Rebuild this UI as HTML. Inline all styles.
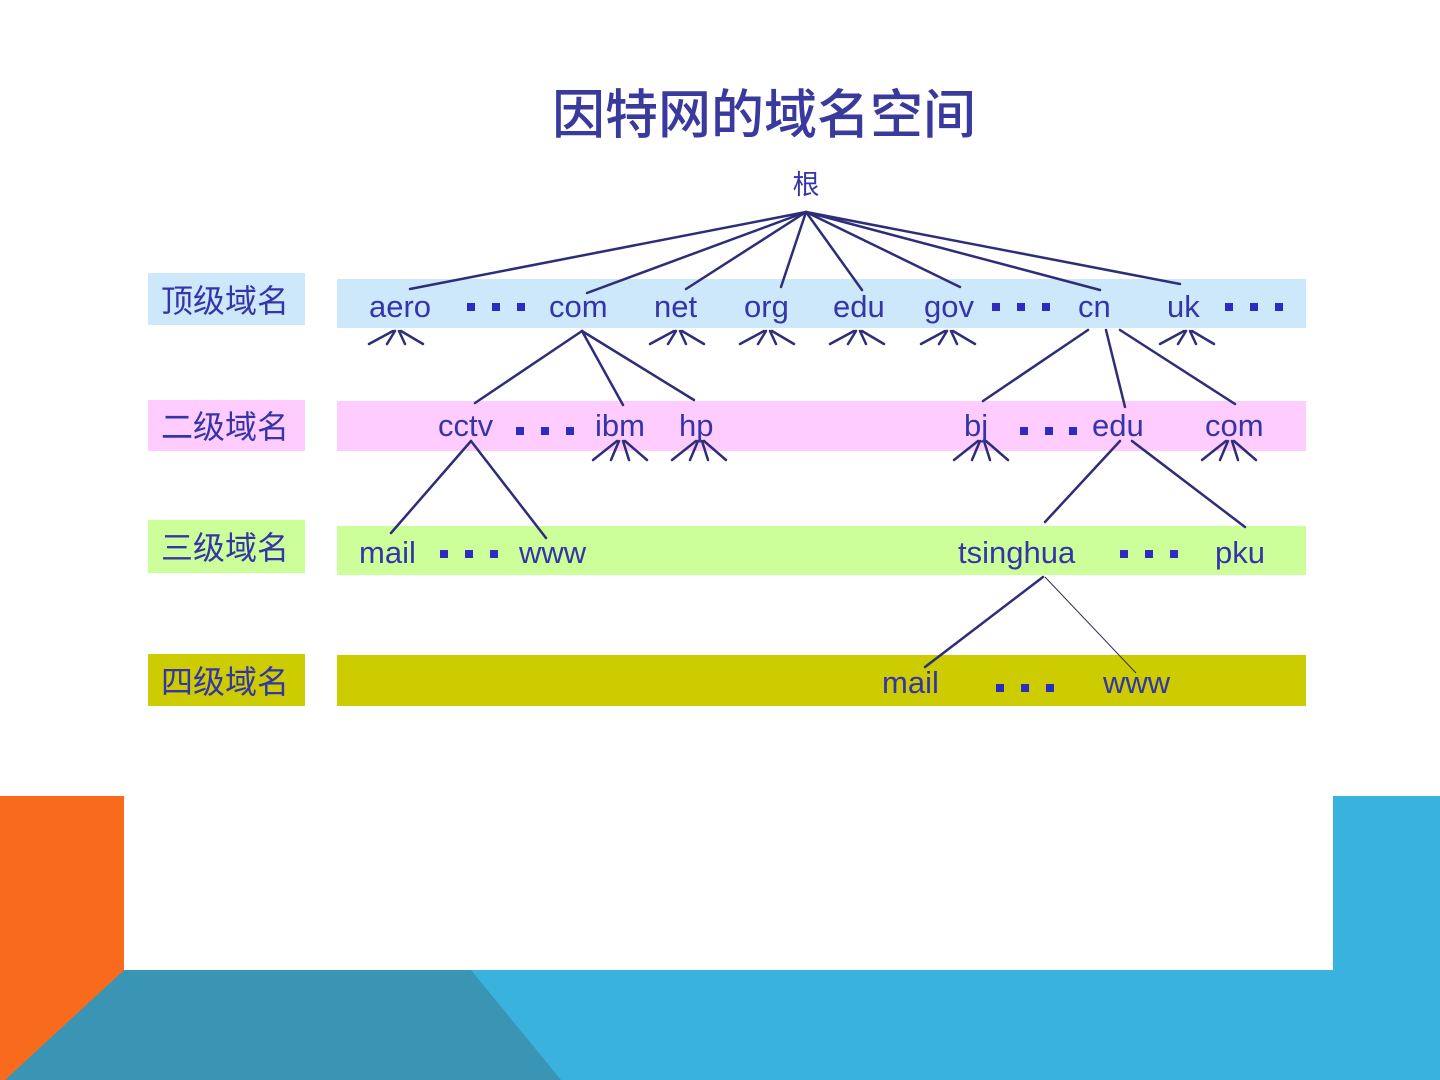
<!DOCTYPE html>
<html><head><meta charset="utf-8"><style>
html,body{margin:0;padding:0;background:#fff;}
svg{display:block;}
text{font-family:"Liberation Sans","Noto Sans CJK SC",sans-serif;fill:#3535a8;}
.c{font-family:"Noto Sans CJK SC","WenQuanYi Zen Hei",sans-serif;}
</style></head><body>
<svg width="1440" height="1080" viewBox="0 0 1440 1080" xmlns="http://www.w3.org/2000/svg">
<rect width="1440" height="1080" fill="#fff"/>
<!-- bottom decoration -->
<rect x="1333" y="796" width="107" height="284" fill="#3ab2de"/>
<rect x="0" y="970" width="1440" height="110" fill="#3ab2de"/>
<polygon points="124,970 471,970 561,1080 5,1080" fill="#3a94b3"/>
<rect x="0" y="796" width="124" height="174" fill="#f96b1c"/>
<polygon points="0,970 124,970 5,1080 0,1080" fill="#f96b1c"/>

<text x="764" y="133" class="c" font-size="53" font-weight="500" text-anchor="middle" style="fill:#3a3a9e">因特网的域名空间</text>
<text x="806" y="194" class="c" font-size="27" text-anchor="middle">根</text>

<!-- bands -->
<rect x="148" y="273" width="157" height="52" fill="#cce8fa"/>
<rect x="148" y="400" width="157" height="51" fill="#ffccff"/>
<rect x="148" y="520" width="157" height="53" fill="#ccff99"/>
<rect x="148" y="654" width="157" height="52" fill="#cccc00"/>
<rect x="337" y="279" width="969" height="49" fill="#cce8fa"/>
<rect x="337" y="401" width="969" height="50" fill="#ffccff"/>
<rect x="337" y="526" width="969" height="49" fill="#ccff99"/>
<rect x="337" y="655" width="969" height="51" fill="#cccc00"/>

<g font-size="32">
<text x="161" y="312" class="c">顶级域名</text>
<text x="161" y="438" class="c">二级域名</text>
<text x="161" y="559" class="c">三级域名</text>
<text x="161" y="693" class="c">四级域名</text>
</g>

<g stroke="#2e2e78" stroke-width="2.5" fill="none" stroke-linecap="round">
<!-- root -->
<line x1="806" y1="212" x2="410" y2="289"/>
<line x1="806" y1="212" x2="587" y2="293"/>
<line x1="806" y1="212" x2="686" y2="289"/>
<line x1="806" y1="212" x2="781" y2="287"/>
<line x1="806" y1="212" x2="862" y2="290"/>
<line x1="806" y1="212" x2="960" y2="287"/>
<line x1="806" y1="212" x2="1100" y2="290"/>
<line x1="806" y1="212" x2="1180" y2="284"/>
<!-- com -->
<line x1="582" y1="331" x2="475" y2="403"/>
<line x1="582" y1="331" x2="623" y2="405"/>
<line x1="582" y1="331" x2="694" y2="400"/>
<!-- cn -->
<line x1="1088" y1="330" x2="983" y2="401"/>
<line x1="1106" y1="330" x2="1125" y2="407"/>
<line x1="1120" y1="330" x2="1235" y2="404"/>
<!-- cctv -->
<line x1="471" y1="441" x2="391" y2="533"/>
<line x1="471" y1="441" x2="546" y2="538"/>
<!-- edu -->
<line x1="1120" y1="441" x2="1045" y2="522"/>
<line x1="1132" y1="441" x2="1245" y2="527"/>
<!-- tsinghua -->
<line x1="1043" y1="577" x2="925" y2="667"/>
</g>
<line x1="1045" y1="577" x2="1136" y2="673" stroke="#2e2e50" stroke-width="1"/>

<!-- fans -->
<g stroke="#2e2e78" stroke-width="2.5" fill="none" stroke-linecap="round">
<g transform="translate(397,331)"><line x1="-4" y1="0" x2="-28" y2="13"/><line x1="-2" y1="0" x2="-10" y2="13"/><line x1="2" y1="0" x2="8" y2="13"/><line x1="4" y1="0" x2="26" y2="13"/></g>
<g transform="translate(678,331)"><line x1="-4" y1="0" x2="-28" y2="13"/><line x1="-2" y1="0" x2="-10" y2="13"/><line x1="2" y1="0" x2="8" y2="13"/><line x1="4" y1="0" x2="26" y2="13"/></g>
<g transform="translate(768,331)"><line x1="-4" y1="0" x2="-28" y2="13"/><line x1="-2" y1="0" x2="-10" y2="13"/><line x1="2" y1="0" x2="8" y2="13"/><line x1="4" y1="0" x2="26" y2="13"/></g>
<g transform="translate(858,331)"><line x1="-4" y1="0" x2="-28" y2="13"/><line x1="-2" y1="0" x2="-10" y2="13"/><line x1="2" y1="0" x2="8" y2="13"/><line x1="4" y1="0" x2="26" y2="13"/></g>
<g transform="translate(949,331)"><line x1="-4" y1="0" x2="-28" y2="13"/><line x1="-2" y1="0" x2="-10" y2="13"/><line x1="2" y1="0" x2="8" y2="13"/><line x1="4" y1="0" x2="26" y2="13"/></g>
<g transform="translate(1188,331)"><line x1="-4" y1="0" x2="-28" y2="13"/><line x1="-2" y1="0" x2="-10" y2="13"/><line x1="2" y1="0" x2="8" y2="13"/><line x1="4" y1="0" x2="26" y2="13"/></g>
<g transform="translate(621,441)"><line x1="-4" y1="0" x2="-28" y2="19"/><line x1="-2" y1="0" x2="-10" y2="19"/><line x1="2" y1="0" x2="8" y2="19"/><line x1="4" y1="0" x2="26" y2="19"/></g>
<g transform="translate(700,441)"><line x1="-4" y1="0" x2="-28" y2="19"/><line x1="-2" y1="0" x2="-10" y2="19"/><line x1="2" y1="0" x2="8" y2="19"/><line x1="4" y1="0" x2="26" y2="19"/></g>
<g transform="translate(982,441)"><line x1="-4" y1="0" x2="-28" y2="19"/><line x1="-2" y1="0" x2="-10" y2="19"/><line x1="2" y1="0" x2="8" y2="19"/><line x1="4" y1="0" x2="26" y2="19"/></g>
<g transform="translate(1230,441)"><line x1="-4" y1="0" x2="-28" y2="19"/><line x1="-2" y1="0" x2="-10" y2="19"/><line x1="2" y1="0" x2="8" y2="19"/><line x1="4" y1="0" x2="26" y2="19"/></g>
</g>

<!-- labels -->
<g font-size="31">
<text x="369" y="317">aero</text>
<text x="549" y="317">com</text>
<text x="654" y="317">net</text>
<text x="744" y="317">org</text>
<text x="833" y="317">edu</text>
<text x="924" y="317">gov</text>
<text x="1078" y="317">cn</text>
<text x="1167" y="317">uk</text>
<text x="438" y="436">cctv</text>
<text x="595" y="436">ibm</text>
<text x="679" y="436">hp</text>
<text x="964" y="436">bj</text>
<text x="1092" y="436">edu</text>
<text x="1205" y="436">com</text>
<text x="359" y="563">mail</text>
<text x="519" y="563">www</text>
<text x="958" y="563">tsinghua</text>
<text x="1215" y="563">pku</text>
<text x="882" y="693">mail</text>
<text x="1103" y="693">www</text>
</g>

<!-- dots -->
<g fill="#2c2cc0">
<rect x="467" y="303" width="8" height="8"/><rect x="492" y="303" width="8" height="8"/><rect x="517" y="303" width="8" height="8"/>
<rect x="992" y="303" width="8" height="8"/><rect x="1017" y="303" width="8" height="8"/><rect x="1042" y="303" width="8" height="8"/>
<rect x="1225" y="303" width="8" height="8"/><rect x="1250" y="303" width="8" height="8"/><rect x="1275" y="303" width="8" height="8"/>
<rect x="516" y="427" width="8" height="8"/><rect x="541" y="427" width="8" height="8"/><rect x="566" y="427" width="8" height="8"/>
<rect x="1020" y="427" width="8" height="8"/><rect x="1045" y="427" width="8" height="8"/><rect x="1069" y="427" width="8" height="8"/>
<rect x="440" y="550" width="8" height="8"/><rect x="465" y="550" width="8" height="8"/><rect x="490" y="550" width="8" height="8"/>
<rect x="1120" y="550" width="8" height="8"/><rect x="1145" y="550" width="8" height="8"/><rect x="1170" y="550" width="8" height="8"/>
<rect x="996" y="684" width="8" height="8"/><rect x="1021" y="684" width="8" height="8"/><rect x="1046" y="684" width="8" height="8"/>
</g>
</svg>
</body></html>
